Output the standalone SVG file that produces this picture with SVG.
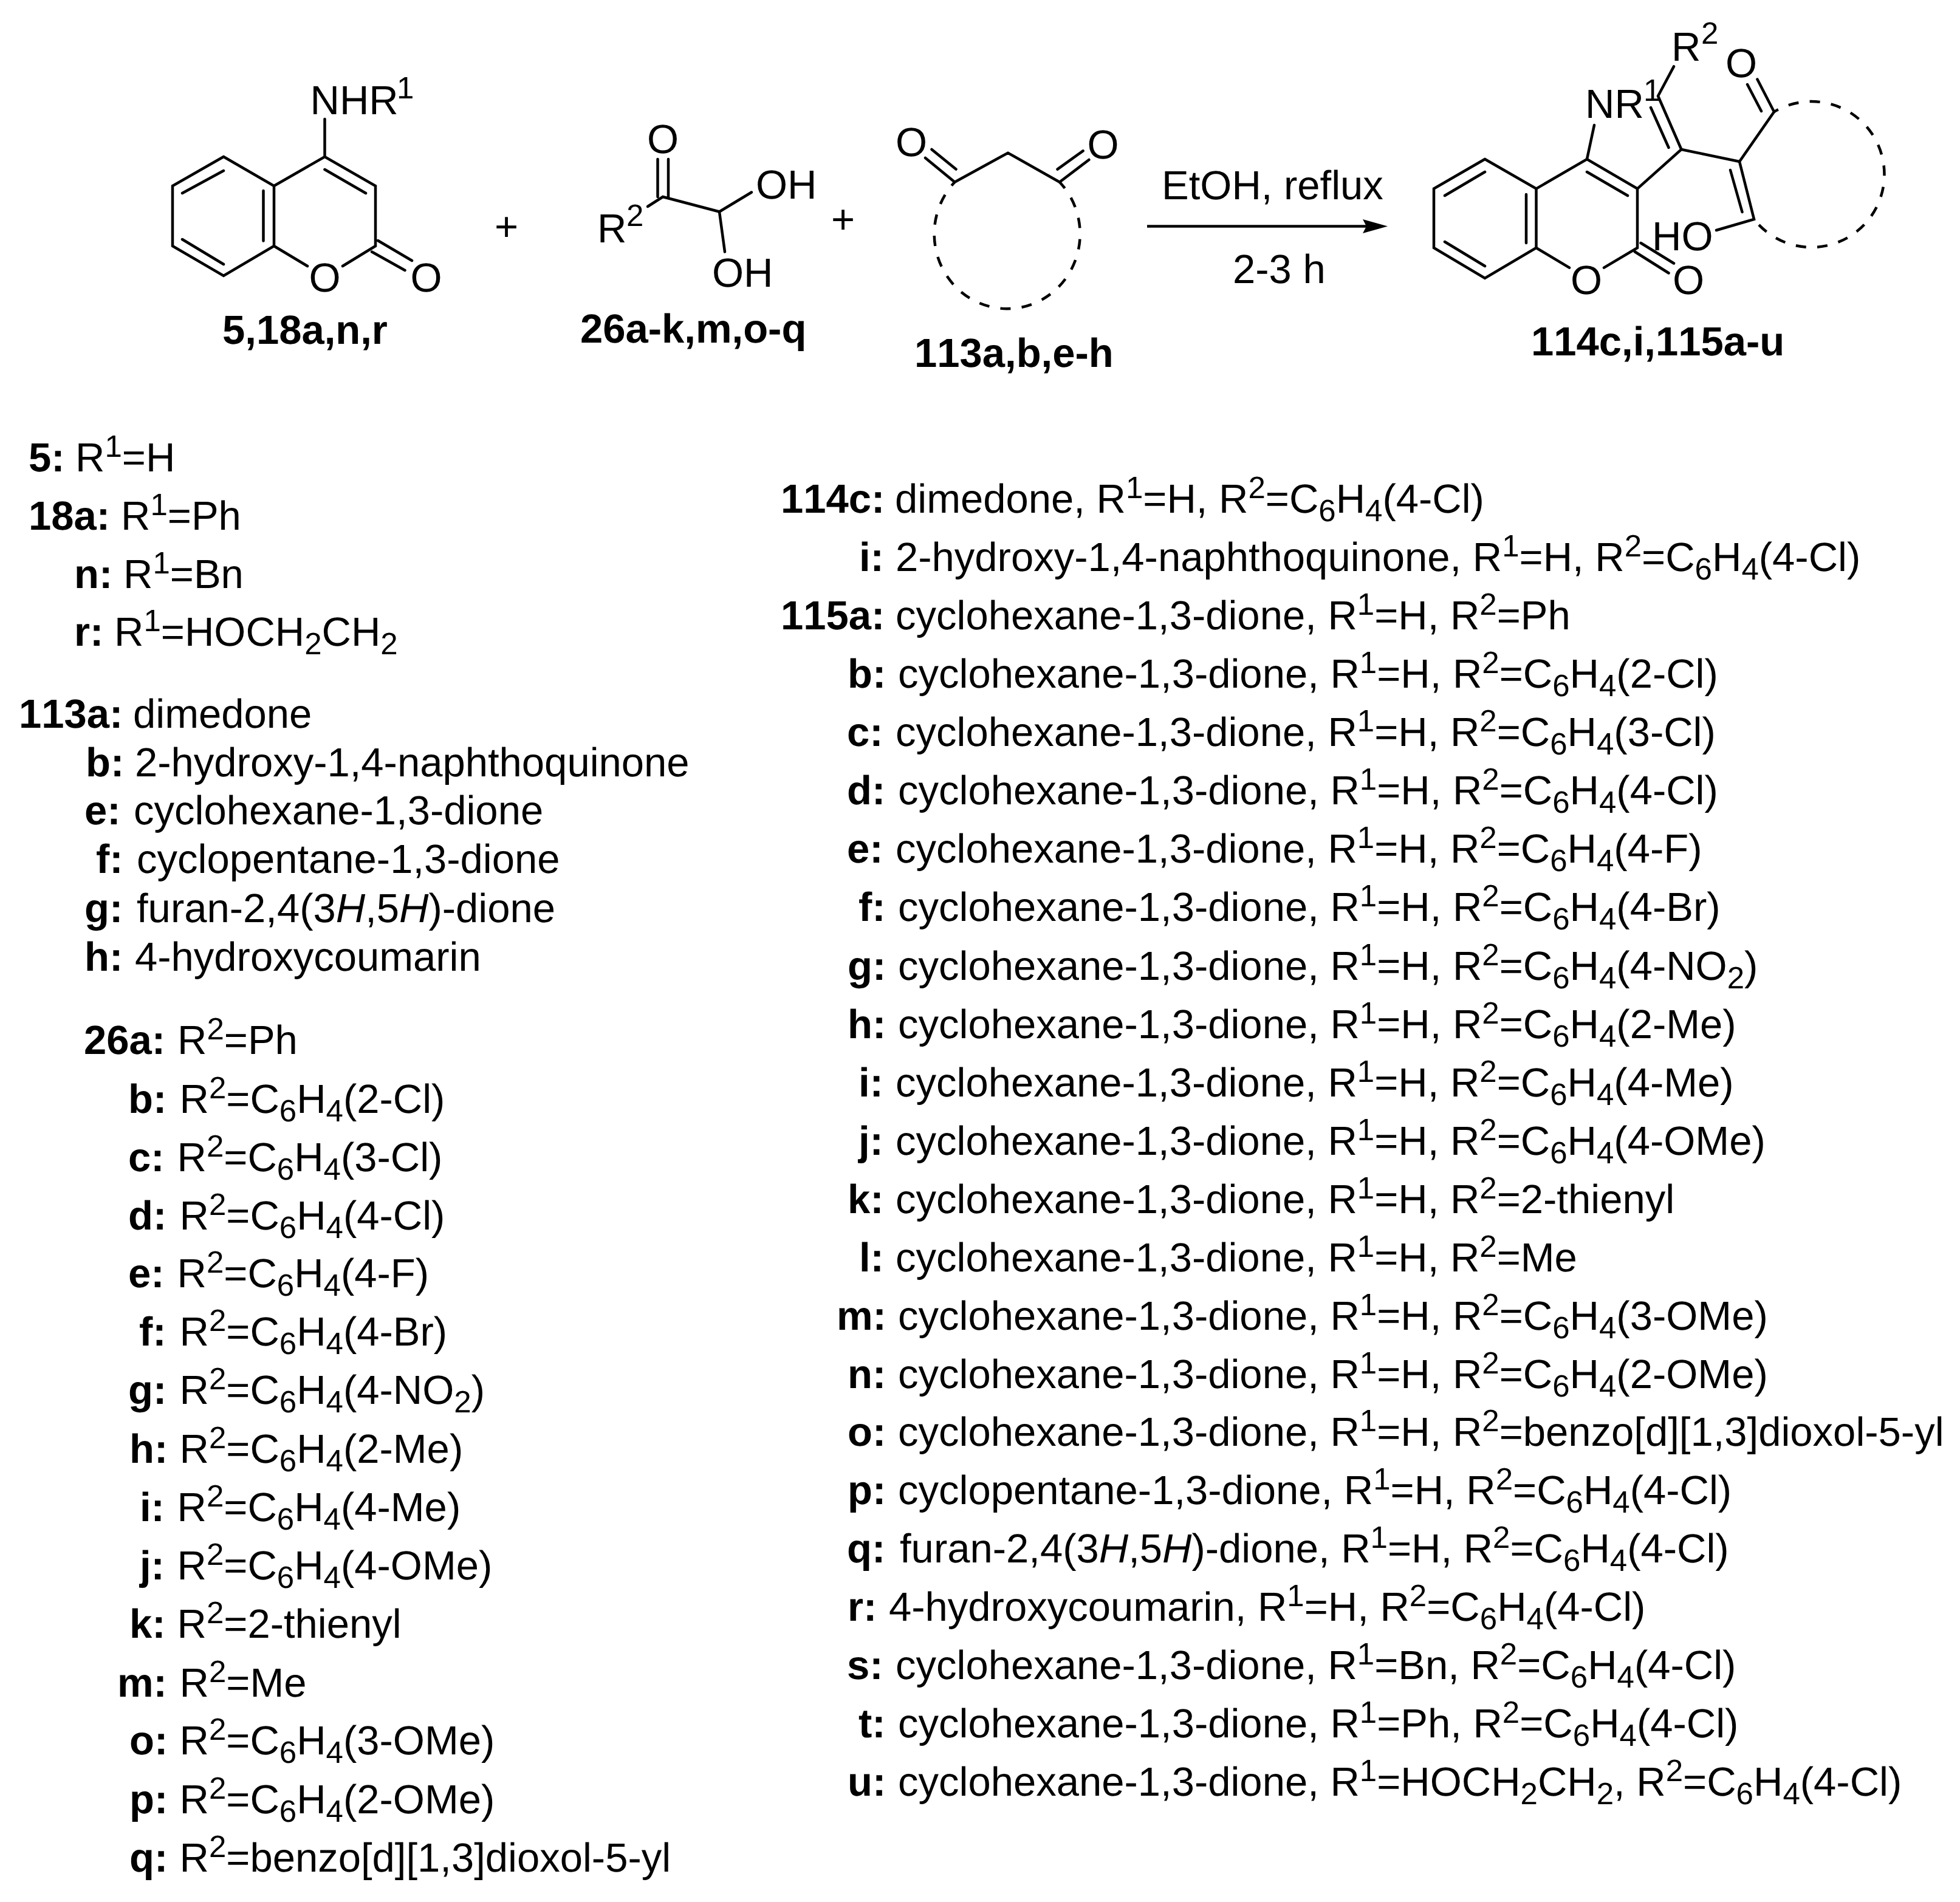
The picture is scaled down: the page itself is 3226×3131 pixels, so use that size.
<svg xmlns="http://www.w3.org/2000/svg" width="3226" height="3131" viewBox="0 0 3226 3131">
<style>
text{font-family:"Liberation Sans",Arial,sans-serif;font-size:67px;fill:#000;font-kerning:none;text-rendering:geometricPrecision}
.b{font-weight:700}
.s{font-size:51px}
.u{font-size:51px;baseline-shift:24px}
.d{font-size:51px;baseline-shift:-14px}
.i{font-style:italic}
.bond{fill:none;stroke:#000;stroke-width:4.5;stroke-linecap:round;stroke-linejoin:miter}
.dash{fill:none;stroke:#000;stroke-width:4.5;stroke-dasharray:17 18.3}
</style>
<defs>
<marker id="ah" viewBox="0 0 41 23" refX="6" refY="11.5" markerWidth="41" markerHeight="23" markerUnits="userSpaceOnUse" orient="auto"><polygon points="41,11.5 0,0 6,11.5 0,23" fill="#000"/></marker>
</defs>
<rect width="3226" height="3131" fill="#fff"/>
<g id="connectors">
<line x1="1888" y1="372.5" x2="2249" y2="372.5" stroke="#000" stroke-width="4.5" marker-end="url(#ah)"/>
</g>
<g id="node-5">
<path class="bond" d="M368,258L284,306V405L368,454L451,405V306L368,258M451,306L534.5,258L618,306V405L564,438M451,405L506,438M300,318L368,281M300,394L368,435M433.5,314V396.5M534.5,279L602,318M612,414.5L666.5,445M622,396L678,429M534.5,258V196"/>
<text x="510.5" y="188">NHR</text><text class="s" x="653" y="162">1</text>
<text x="508.5" y="480">O</text><text x="675.5" y="480">O</text>
<text class="b" x="366" y="566">5,18a,n,r</text>
</g>
<text id="plus-1" x="814" y="396">+</text>
<g id="node-26">
<path class="bond" d="M1066,340L1091,324L1184,348.5L1237,316.5M1184,348.5L1193,414.6M1082.5,262V324M1100,262V326"/>
<text x="983" y="399">R</text><text class="s" x="1031" y="372">2</text>
<text x="1065" y="252">O</text>
<text x="1244" y="327">OH</text><text x="1172" y="472">OH</text>
<text class="b" x="955" y="564">26a-k,m,o-q</text>
</g>
<text id="plus-2" x="1368" y="384">+</text>
<g id="node-113">
<path class="bond" d="M1571.4,299.7L1659,251.7L1744,299.7M1523,260L1571.4,299.7M1533.5,246L1573.5,278.6M1792.4,263L1744,299.7M1782.6,248.3L1740.5,278.6"/>
<path class="dash" stroke-dashoffset="9" d="M1571.4,299.7A120,123 0 1 0 1744,299.7"/>
<text x="1474" y="257">O</text><text x="1789.5" y="261">O</text>
<text class="b" x="1505" y="604">113a,b,e-h</text>
</g>
<g id="conditions">
<text x="1912" y="328">EtOH, reflux</text>
<text x="2029" y="466">2-3 h</text>
</g>
<g id="node-114">
<path class="bond" d="M2444,262L2360,310.6V408L2444,458L2528.5,408V310.6L2444,262M2528.5,310.6L2612,262L2695,310.6V408L2640,440.6M2528.5,408L2583,440.6M2378,322L2444,283M2378,398L2444,438M2512,320V400M2612,283L2679,322M2691,414.5L2746.5,449.5M2700.6,400L2755,433.5M2612,262L2624,206M2695,310.6L2767.4,246L2729,158L2755,109.4M2746.5,243L2717,177M2767.4,246L2863,266L2920,184L2892.4,130.5M2876,139L2899,183M2863,266L2887,361L2825,379M2848,280L2867.5,349"/>
<path class="dash" stroke-dashoffset="9" d="M2920,184A120,120 0 1 1 2887,361"/>
<text x="2585" y="484">O</text><text x="2753" y="484">O</text>
<text x="2609" y="194">NR</text><text class="s" x="2705" y="166">1</text>
<text x="2751" y="100">R</text><text class="s" x="2800" y="72">2</text>
<text x="2840" y="127">O</text>
<text x="2719" y="412">HO</text>
<text class="b" x="2520" y="585">114c,i,115a-u</text>
</g>
<g id="list-18">
<text class="b" x="47" y="776">5:</text><text x="124" y="776">R<tspan class="u">1</tspan>=H</text>
<text class="b" x="47" y="872">18a:</text><text x="199" y="872">R<tspan class="u">1</tspan>=Ph</text>
<text class="b" x="122" y="968">n:</text><text x="203" y="968">R<tspan class="u">1</tspan>=Bn</text>
<text class="b" x="122" y="1063">r:</text><text x="188" y="1063">R<tspan class="u">1</tspan>=HOCH<tspan class="d">2</tspan>CH<tspan class="d">2</tspan></text>
</g>
<g id="list-113">
<text class="b" x="31" y="1198">113a:</text><text x="219" y="1198">dimedone</text>
<text class="b" x="141" y="1278">b:</text><text x="222" y="1278">2-hydroxy-1,4-naphthoquinone</text>
<text class="b" x="139" y="1357">e:</text><text x="220" y="1357">cyclohexane-1,3-dione</text>
<text class="b" x="158" y="1437">f:</text><text x="225" y="1437">cyclopentane-1,3-dione</text>
<text class="b" x="139" y="1518">g:</text><text x="225" y="1518">furan-2,4(3<tspan class="i">H</tspan>,5<tspan class="i">H</tspan>)-dione</text>
<text class="b" x="139" y="1598">h:</text><text x="222" y="1598">4-hydroxycoumarin</text>
</g>
<g id="list-26">
<text class="b" x="138" y="1735">26a:</text><text x="292" y="1735">R<tspan class="u">2</tspan>=Ph</text>
<text class="b" x="211" y="1832">b:</text><text x="295.5" y="1832">R<tspan class="u">2</tspan>=C<tspan class="d">6</tspan>H<tspan class="d">4</tspan>(2-Cl)</text>
<text class="b" x="211" y="1928">c:</text><text x="291.5" y="1928">R<tspan class="u">2</tspan>=C<tspan class="d">6</tspan>H<tspan class="d">4</tspan>(3-Cl)</text>
<text class="b" x="211" y="2024">d:</text><text x="295.5" y="2024">R<tspan class="u">2</tspan>=C<tspan class="d">6</tspan>H<tspan class="d">4</tspan>(4-Cl)</text>
<text class="b" x="211" y="2119">e:</text><text x="291.5" y="2119">R<tspan class="u">2</tspan>=C<tspan class="d">6</tspan>H<tspan class="d">4</tspan>(4-F)</text>
<text class="b" x="229" y="2215">f:</text><text x="295.5" y="2215">R<tspan class="u">2</tspan>=C<tspan class="d">6</tspan>H<tspan class="d">4</tspan>(4-Br)</text>
<text class="b" x="211" y="2311">g:</text><text x="295.5" y="2311">R<tspan class="u">2</tspan>=C<tspan class="d">6</tspan>H<tspan class="d">4</tspan>(4-NO<tspan class="d">2</tspan>)</text>
<text class="b" x="213" y="2408">h:</text><text x="295.5" y="2408">R<tspan class="u">2</tspan>=C<tspan class="d">6</tspan>H<tspan class="d">4</tspan>(2-Me)</text>
<text class="b" x="230" y="2504">i:</text><text x="291.5" y="2504">R<tspan class="u">2</tspan>=C<tspan class="d">6</tspan>H<tspan class="d">4</tspan>(4-Me)</text>
<text class="b" x="230" y="2600">j:</text><text x="291.5" y="2600">R<tspan class="u">2</tspan>=C<tspan class="d">6</tspan>H<tspan class="d">4</tspan>(4-OMe)</text>
<text class="b" x="213" y="2696">k:</text><text x="291.5" y="2696">R<tspan class="u">2</tspan>=2-thienyl</text>
<text class="b" x="193" y="2793">m:</text><text x="295.5" y="2793">R<tspan class="u">2</tspan>=Me</text>
<text class="b" x="213" y="2888">o:</text><text x="295.5" y="2888">R<tspan class="u">2</tspan>=C<tspan class="d">6</tspan>H<tspan class="d">4</tspan>(3-OMe)</text>
<text class="b" x="213" y="2985">p:</text><text x="295.5" y="2985">R<tspan class="u">2</tspan>=C<tspan class="d">6</tspan>H<tspan class="d">4</tspan>(2-OMe)</text>
<text class="b" x="213" y="3081">q:</text><text x="295.5" y="3081">R<tspan class="u">2</tspan>=benzo[d][1,3]dioxol-5-yl</text>
</g>
<g id="list-114-115">
<text class="b" x="1285" y="844">114c:</text><text x="1473" y="844">dimedone, R<tspan class="u">1</tspan>=H, R<tspan class="u">2</tspan>=C<tspan class="d">6</tspan>H<tspan class="d">4</tspan>(4-Cl)</text>
<text class="b" x="1414" y="940">i:</text><text x="1474" y="940">2-hydroxy-1,4-naphthoquinone, R<tspan class="u">1</tspan>=H, R<tspan class="u">2</tspan>=C<tspan class="d">6</tspan>H<tspan class="d">4</tspan>(4-Cl)</text>
<text class="b" x="1285" y="1036">115a:</text><text x="1474" y="1036">cyclohexane-1,3-dione, R<tspan class="u">1</tspan>=H, R<tspan class="u">2</tspan>=Ph</text>
<text class="b" x="1395" y="1132">b:</text><text x="1478" y="1132">cyclohexane-1,3-dione, R<tspan class="u">1</tspan>=H, R<tspan class="u">2</tspan>=C<tspan class="d">6</tspan>H<tspan class="d">4</tspan>(2-Cl)</text>
<text class="b" x="1394" y="1228">c:</text><text x="1474" y="1228">cyclohexane-1,3-dione, R<tspan class="u">1</tspan>=H, R<tspan class="u">2</tspan>=C<tspan class="d">6</tspan>H<tspan class="d">4</tspan>(3-Cl)</text>
<text class="b" x="1394" y="1324">d:</text><text x="1478" y="1324">cyclohexane-1,3-dione, R<tspan class="u">1</tspan>=H, R<tspan class="u">2</tspan>=C<tspan class="d">6</tspan>H<tspan class="d">4</tspan>(4-Cl)</text>
<text class="b" x="1394" y="1420">e:</text><text x="1474" y="1420">cyclohexane-1,3-dione, R<tspan class="u">1</tspan>=H, R<tspan class="u">2</tspan>=C<tspan class="d">6</tspan>H<tspan class="d">4</tspan>(4-F)</text>
<text class="b" x="1413" y="1516">f:</text><text x="1478" y="1516">cyclohexane-1,3-dione, R<tspan class="u">1</tspan>=H, R<tspan class="u">2</tspan>=C<tspan class="d">6</tspan>H<tspan class="d">4</tspan>(4-Br)</text>
<text class="b" x="1395" y="1613">g:</text><text x="1478" y="1613">cyclohexane-1,3-dione, R<tspan class="u">1</tspan>=H, R<tspan class="u">2</tspan>=C<tspan class="d">6</tspan>H<tspan class="d">4</tspan>(4-NO<tspan class="d">2</tspan>)</text>
<text class="b" x="1395" y="1709">h:</text><text x="1478" y="1709">cyclohexane-1,3-dione, R<tspan class="u">1</tspan>=H, R<tspan class="u">2</tspan>=C<tspan class="d">6</tspan>H<tspan class="d">4</tspan>(2-Me)</text>
<text class="b" x="1413" y="1805">i:</text><text x="1474" y="1805">cyclohexane-1,3-dione, R<tspan class="u">1</tspan>=H, R<tspan class="u">2</tspan>=C<tspan class="d">6</tspan>H<tspan class="d">4</tspan>(4-Me)</text>
<text class="b" x="1413" y="1901">j:</text><text x="1474" y="1901">cyclohexane-1,3-dione, R<tspan class="u">1</tspan>=H, R<tspan class="u">2</tspan>=C<tspan class="d">6</tspan>H<tspan class="d">4</tspan>(4-OMe)</text>
<text class="b" x="1395" y="1997">k:</text><text x="1474" y="1997">cyclohexane-1,3-dione, R<tspan class="u">1</tspan>=H, R<tspan class="u">2</tspan>=2-thienyl</text>
<text class="b" x="1414" y="2093">l:</text><text x="1474" y="2093">cyclohexane-1,3-dione, R<tspan class="u">1</tspan>=H, R<tspan class="u">2</tspan>=Me</text>
<text class="b" x="1377" y="2189">m:</text><text x="1478" y="2189">cyclohexane-1,3-dione, R<tspan class="u">1</tspan>=H, R<tspan class="u">2</tspan>=C<tspan class="d">6</tspan>H<tspan class="d">4</tspan>(3-OMe)</text>
<text class="b" x="1395" y="2285">n:</text><text x="1478" y="2285">cyclohexane-1,3-dione, R<tspan class="u">1</tspan>=H, R<tspan class="u">2</tspan>=C<tspan class="d">6</tspan>H<tspan class="d">4</tspan>(2-OMe)</text>
<text class="b" x="1395" y="2380">o:</text><text x="1478" y="2380">cyclohexane-1,3-dione, R<tspan class="u">1</tspan>=H, R<tspan class="u">2</tspan>=benzo[d][1,3]dioxol-5-yl</text>
<text class="b" x="1395" y="2476">p:</text><text x="1478" y="2476">cyclopentane-1,3-dione, R<tspan class="u">1</tspan>=H, R<tspan class="u">2</tspan>=C<tspan class="d">6</tspan>H<tspan class="d">4</tspan>(4-Cl)</text>
<text class="b" x="1394" y="2572">q:</text><text x="1481" y="2572">furan-2,4(3<tspan class="i">H</tspan>,5<tspan class="i">H</tspan>)-dione, R<tspan class="u">1</tspan>=H, R<tspan class="u">2</tspan>=C<tspan class="d">6</tspan>H<tspan class="d">4</tspan>(4-Cl)</text>
<text class="b" x="1395" y="2668">r:</text><text x="1463" y="2668">4-hydroxycoumarin, R<tspan class="u">1</tspan>=H, R<tspan class="u">2</tspan>=C<tspan class="d">6</tspan>H<tspan class="d">4</tspan>(4-Cl)</text>
<text class="b" x="1394" y="2764">s:</text><text x="1474" y="2764">cyclohexane-1,3-dione, R<tspan class="u">1</tspan>=Bn, R<tspan class="u">2</tspan>=C<tspan class="d">6</tspan>H<tspan class="d">4</tspan>(4-Cl)</text>
<text class="b" x="1413" y="2860">t:</text><text x="1478" y="2860">cyclohexane-1,3-dione, R<tspan class="u">1</tspan>=Ph, R<tspan class="u">2</tspan>=C<tspan class="d">6</tspan>H<tspan class="d">4</tspan>(4-Cl)</text>
<text class="b" x="1395" y="2956">u:</text><text x="1478" y="2956">cyclohexane-1,3-dione, R<tspan class="u">1</tspan>=HOCH<tspan class="d">2</tspan>CH<tspan class="d">2</tspan>, R<tspan class="u">2</tspan>=C<tspan class="d">6</tspan>H<tspan class="d">4</tspan>(4-Cl)</text>
</g>
</svg>
